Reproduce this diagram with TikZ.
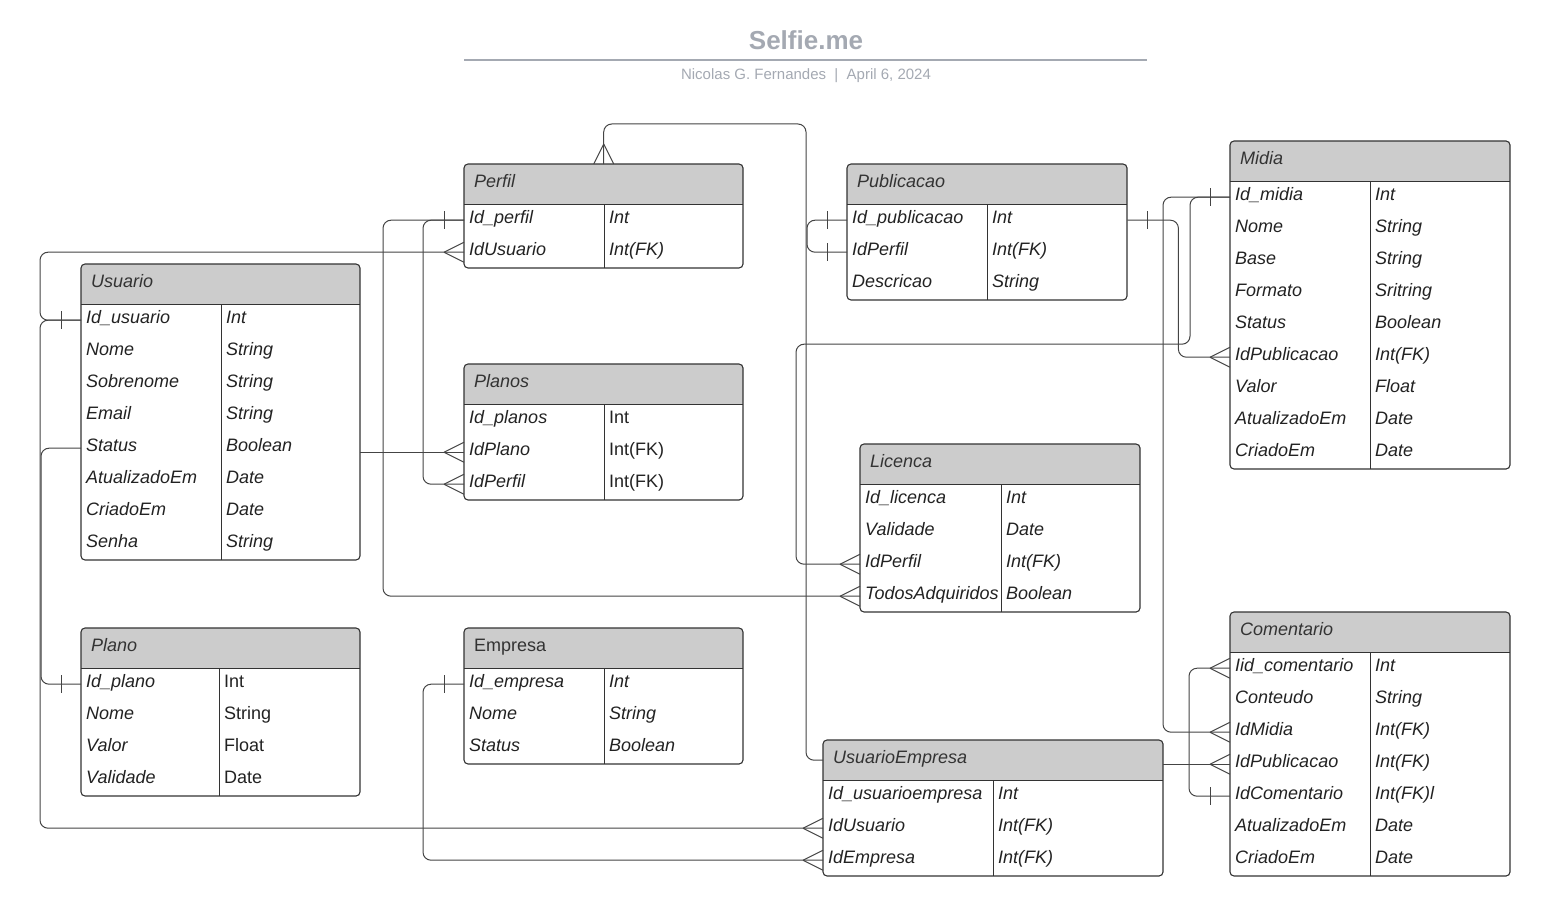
\documentclass[tikz,border=0pt]{standalone}
\usepackage{fontspec}
\setmainfont{Liberation Sans}
\usetikzlibrary{calc}
\definecolor{cInk}{HTML}{333333}
\definecolor{cLine}{HTML}{444444}
\definecolor{cText}{HTML}{222222}
\definecolor{cHead}{HTML}{CCCCCC}
\definecolor{cTitle}{HTML}{A4A9B2}
\tikzset{
  er/.style={x=1pt, y=-1pt, font=\fontsize{18}{22}\selectfont\itshape},
  hdr/.style={fill=cHead, rounded corners=4pt, minimum height=40pt, inner sep=0pt, anchor=north west},
  rowbox/.style={minimum height=32pt, inner sep=0pt, anchor=north west},
  cell/.style={anchor=west, inner sep=0pt, text height=12pt, text depth=5pt, text=cText},
  tbl/.style={draw=cInk, line width=1.1pt, rounded corners=4pt},
  sep/.style={draw=cInk, line width=1pt},
  conn/.style={draw=cLine, line width=1pt, rounded corners=8pt},
  endtick/.style={draw=cLine, line width=1pt},
  titletext/.style={text=cTitle, anchor=base, inner sep=0pt},
}
% #1 id, #2 x, #3 y (top), #4 width, #5 key column, #6 title, #7 rows field/type/key
\newcommand{\ertable}[7]{%
  \node[hdr, minimum width=#4pt] (#1) at (#2,#3) {};
  \fill[cHead] (#2,#3+20) rectangle ++(#4,20);
  \node[cell, text=cInk] (#1-name) at (#2+10,#3+20) {#6};
  \foreach \fld/\ty/\k [count=\idx] in {#7} {
    \node[rowbox, minimum width=#4pt] (#1-\k) at (#2,{#3+40+(\idx-1)*32}) {};
    \node[cell] (#1-\k-f) at ([xshift=5]#1-\k.west) {\fld};
    \node[cell] (#1-\k-t) at ([xshift=#5+5]#1-\k.west) {\ty};
    \xdef\nrows{\idx}
  }
  \draw[sep] (#2,#3+40) -- ++(#4,0);
  \draw[sep] (#2+#5,#3+40) -- (#2+#5,{#3+40+\nrows*32});
  \draw[tbl] (#2,#3) rectangle ++(#4,{40+\nrows*32});
}
\newcommand{\crowfoot}[2]{\draw[endtick] ([xshift=#2]#1) -- ([yshift=10]#1) ([xshift=#2]#1) -- ([yshift=-10]#1);}
\newcommand{\onebar}[2]{\draw[endtick] ([xshift=#2,yshift=9]#1) -- ([xshift=#2,yshift=-9]#1);}

\begin{document}
\begin{tikzpicture}[er]
\useasboundingbox (0,0) rectangle (1547,923);

% title block
\node[titletext, font=\fontsize{26}{30}\selectfont\bfseries\upshape] (title) at (806,50) {Selfie.me};
\draw[cTitle, line width=2pt] (464,60) -- (1147,60);
\node[titletext, font=\fontsize{15}{18}\selectfont\upshape] (byline) at (806,80) {Nicolas G. Fernandes\ \ |\ \ April 6, 2024};

% tables
\ertable{perfil}{464}{164}{279}{140}{Perfil}{Id\_perfil/Int/id, IdUsuario/Int(FK)/usr}
\ertable{pub}{847}{164}{280}{140}{Publicacao}{Id\_publicacao/Int/id, IdPerfil/Int(FK)/perf, Descricao/String/desc}
\ertable{midia}{1230}{141}{280}{140}{Midia}{Id\_midia/Int/id, Nome/String/nome, Base/String/base, Formato/Sritring/fmt, Status/Boolean/st, IdPublicacao/Int(FK)/pub, Valor/Float/val, AtualizadoEm/Date/atu, CriadoEm/Date/cri}
\ertable{usu}{81}{264}{279}{140}{Usuario}{Id\_usuario/Int/id, Nome/String/nome, Sobrenome/String/sob, Email/String/email, Status/Boolean/st, AtualizadoEm/Date/atu, CriadoEm/Date/cri, Senha/String/senha}
\ertable{planos}{464}{364}{279}{140}{Planos}{Id\_planos/\upshape Int/id, IdPlano/\upshape Int(FK)/plano, IdPerfil/\upshape Int(FK)/perf}
\ertable{lic}{860}{444}{280}{141}{Licenca}{Id\_licenca/Int/id, Validade/Date/vld, IdPerfil/Int(FK)/perf, TodosAdquiridos/Boolean/todos}
\ertable{plano}{81}{628}{279}{138}{Plano}{Id\_plano/\upshape Int/id, Nome/\upshape String/nome, Valor/\upshape Float/val, Validade/\upshape Date/vld}
\ertable{emp}{464}{628}{279}{140}{\upshape Empresa}{Id\_empresa/Int/id, Nome/String/nome, Status/Boolean/st}
\ertable{ue}{823}{740}{340}{170}{UsuarioEmpresa}{Id\_usuarioempresa/Int/id, IdUsuario/Int(FK)/usr, IdEmpresa/Int(FK)/emp}
\ertable{com}{1230}{612}{280}{140}{Comentario}{Iid\_comentario/Int/id, Conteudo/String/cont, IdMidia/Int(FK)/midia, IdPublicacao/Int(FK)/pub, IdComentario/Int(FK)l/com, AtualizadoEm/Date/atu, CriadoEm/Date/cri}

% relationships
\draw[conn] (usu-id.west) -- ++(-41,0) |- (perfil-usr.west);
\draw[conn] (usu-id.west) -- ++(-41,0) |- (ue-usr.west);
\draw[conn] (usu-st.west) -- ++(-40,0) |- (plano-id.west);
\draw[conn] (usu-st.east |- planos-plano.west) -- (planos-plano.west);
\draw[conn] (perfil-id.west) -- ++(-41,0) |- (planos-perf.west);
\draw[conn] (perfil-id.west) -- ++(-81,0) |- (lic-todos.west);
\draw[conn] (perfil.north) -- ++(0,-40) -| ([xshift=-17]ue.west) -- (ue.west);
\draw[conn] (pub-id.west) -- ++(-40,0) |- (pub-perf.west);
\draw[conn] (pub-id.east) -- ++(51,0) |- (midia-pub.west);
\draw[conn] (midia-id.west) -- ++(-40,0) -- ++(0,147) -| ([xshift=-64]lic-perf.west) -- (lic-perf.west);
\draw[conn] (midia-id.west) -- ++(-67,0) |- (com-midia.west);
\draw[conn] (com-id.west) -- ++(-41,0) |- (com-com.west);
\draw[conn] (ue.east |- com-pub.west) -- (com-pub.west);
\draw[conn] (emp-id.west) -- ++(-41,0) |- (ue-emp.west);

% cardinality marks
\onebar{usu-id.west}{-20}
\crowfoot{perfil-usr.west}{-20}
\crowfoot{ue-usr.west}{-20}
\onebar{plano-id.west}{-20}
\crowfoot{planos-plano.west}{-20}
\onebar{perfil-id.west}{-20}
\crowfoot{planos-perf.west}{-20}
\crowfoot{lic-todos.west}{-20}
\draw[endtick] ([yshift=20]perfil.north) -- ([xshift=-10]perfil.north) ([yshift=20]perfil.north) -- ([xshift=10]perfil.north);
\onebar{pub-id.west}{-20}
\onebar{pub-perf.west}{-20}
\onebar{pub-id.east}{20}
\crowfoot{midia-pub.west}{-20}
\onebar{midia-id.west}{-20}
\crowfoot{lic-perf.west}{-20}
\crowfoot{com-midia.west}{-20}
\crowfoot{com-id.west}{-20}
\onebar{com-com.west}{-20}
\crowfoot{com-pub.west}{-20}
\onebar{emp-id.west}{-20}
\crowfoot{ue-emp.west}{-20}
\end{tikzpicture}
\end{document}
